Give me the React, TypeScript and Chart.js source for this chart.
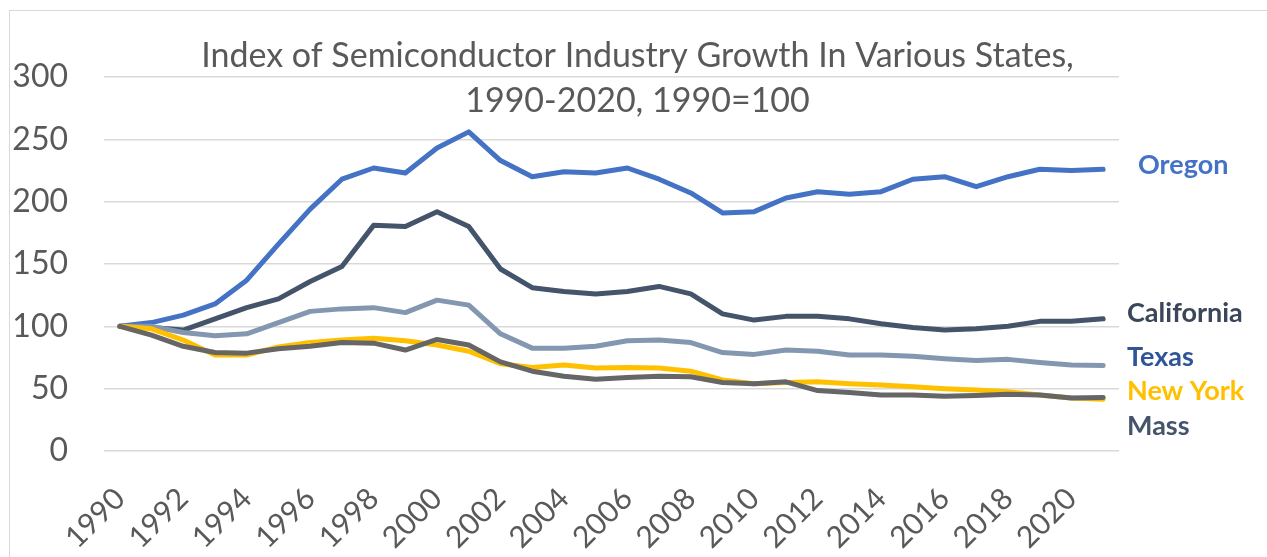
import React, { useEffect, useRef } from "react";
import { Chart, registerables } from "chart.js";

Chart.register(...registerables);

const years: string[] = [
  "1990", "1991", "1992", "1993", "1994", "1995", "1996", "1997", "1998", "1999",
  "2000", "2001", "2002", "2003", "2004", "2005", "2006", "2007", "2008", "2009",
  "2010", "2011", "2012", "2013", "2014", "2015", "2016", "2017", "2018", "2019",
  "2020", "2021",
];

const oregon = [100, 103, 109, 118, 137, 166, 194, 218, 227, 223, 243, 256, 233, 220, 224, 223, 227, 218, 207, 191, 192, 203, 208, 206, 208, 218, 220, 212, 220, 226, 225, 226];
const california = [100, 99, 97, 106, 115, 122, 136, 148, 181, 180, 192, 180, 146, 131, 128, 126, 128, 132, 126, 110, 105, 108, 108, 106, 102, 99, 97, 98, 100, 104, 104, 106];
const texas = [100, 100, 95, 92.5, 94, 103, 112, 114, 115, 111, 121, 117, 94, 82.5, 82.5, 84, 88.5, 89, 87, 79, 77.5, 81, 80, 77, 77, 76, 74, 72.5, 73.5, 71, 69, 68.5];
const newYork = [100, 98, 89, 77, 77, 83.5, 87, 89, 90.5, 88.5, 85, 80, 70, 67, 69, 66.5, 67, 66.5, 64, 57, 54, 55, 55.5, 54, 53, 51.5, 50, 49, 47.5, 45, 42.5, 41.5];
const mass = [100, 93, 84, 79, 78.5, 82, 84, 87, 86.5, 81, 89.5, 85, 71.5, 64, 60, 57.5, 59, 60, 59.5, 55, 54, 55.5, 48.5, 47, 45, 45, 44, 44.5, 45.5, 45, 42.5, 43];

const titleLines = ["Index of Semiconductor Industry Growth In Various States,", "1990-2020, 1990=100"];

const seriesNames = ["Oregon", "California", "Texas", "New York", "Mass"];
const lineColors = ["#4472C4", "#44546A", "#8497B0", "#FFC000", "#666666"];
const labelColors = ["#4472C4", "#3B4658", "#2F5597", "#FFC000", "#44546A"];
// value-axis anchors for the end-of-series name labels
const labelAnchors = [229, 110.5, 75.5, 47.5, 20];

const FONT = "Lato, 'Open Sans', sans-serif";
const TEXT = "#595959";

const titlePlugin = {
  id: "excelTitle",
  afterDraw(chart: any) {
    const ctx = chart.ctx;
    ctx.save();
    ctx.fillStyle = TEXT;
    ctx.font = `34px ${FONT}`;
    ctx.textAlign = "center";
    ctx.textBaseline = "alphabetic";
    const cx = chart.width / 2 + 4;
    ctx.fillText(titleLines[0], cx, 67);
    ctx.fillText(titleLines[1], cx, 112);
    ctx.restore();
  },
};

const endLabelPlugin = {
  id: "endLabels",
  afterDraw(chart: any) {
    const ctx = chart.ctx;
    const y = chart.scales.y;
    const area = chart.chartArea;
    ctx.save();
    ctx.font = `bold 27px ${FONT}`;
    ctx.textAlign = "left";
    ctx.textBaseline = "middle";
    seriesNames.forEach((name, i) => {
      ctx.fillStyle = labelColors[i];
      const x = area.right + (i === 0 ? 19 : 8);
      ctx.fillText(name, x, y.getPixelForValue(labelAnchors[i]));
    });
    ctx.restore();
  },
};

export default function App() {
  const ref = useRef<HTMLCanvasElement | null>(null);

  useEffect(() => {
    if (!ref.current) return;
    const seriesData = [oregon, california, texas, newYork, mass];
    const chart = new Chart(ref.current, {
      type: "line",
      data: {
        labels: years,
        datasets: seriesNames.map((name, i) => ({
          label: name,
          data: seriesData[i],
          borderColor: lineColors[i],
          backgroundColor: lineColors[i],
          borderWidth: 5,
          pointRadius: 0,
          tension: 0,
          borderJoinStyle: "round" as const,
          borderCapStyle: "round" as const,
          order: seriesNames.length - 1 - i,
        })),
      },
      options: {
        animation: false,
        responsive: false,
        events: [],
        layout: { padding: { top: 77, right: 148, left: 0, bottom: 0 } },
        plugins: {
          legend: { display: false },
          title: { display: false },
          tooltip: { enabled: false },
        },
        scales: {
          x: {
            offset: true,
            grid: { display: false, drawTicks: false },
            border: { display: false },
            ticks: {
              autoSkip: false,
              maxRotation: 45,
              minRotation: 45,
              padding: 30,
              color: TEXT,
              font: { family: FONT, size: 30 },
              callback: (_v: any, i: number) => (i % 2 === 0 ? years[i] : ""),
            },
            afterFit: (s: any) => {
              s.height = 106;
            },
          },
          y: {
            min: 0,
            max: 300,
            grid: { color: "#D9D9D9", lineWidth: 1.5, drawTicks: false },
            border: { display: false },
            ticks: {
              stepSize: 50,
              padding: 36,
              color: TEXT,
              font: { family: FONT, size: 32 },
            },
            afterFit: (s: any) => {
              s.width = 104;
            },
          },
        },
      },
      plugins: [titlePlugin, endLabelPlugin],
    });
    return () => chart.destroy();
  }, []);

  return (
    <div style={{ position: "fixed", left: 0, top: 0, width: 1267, height: 557, overflow: "hidden", background: "#fff" }}>
      <div
        style={{
          position: "absolute",
          left: 9,
          top: 10,
          width: 1400,
          height: 700,
          borderLeft: "1.5px solid #D9D9D9",
          borderTop: "1.5px solid #D9D9D9",
        }}
      />
      <canvas ref={ref} width={1267} height={557} style={{ position: "absolute", left: 0, top: 0, display: "block" }} />
    </div>
  );
}
